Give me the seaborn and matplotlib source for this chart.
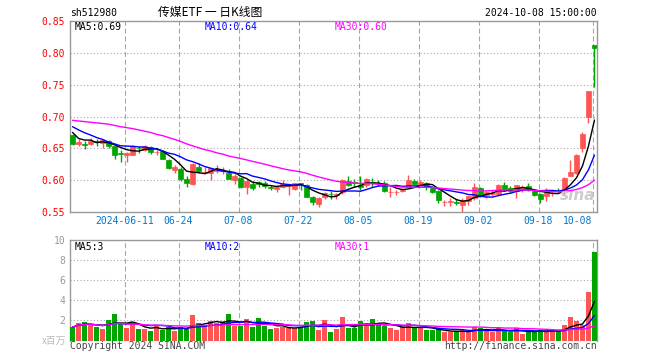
import numpy as np
import pandas as pd
import seaborn as sns
import matplotlib
matplotlib.use('Agg')
import matplotlib.pyplot as plt

# daily candles, 2024-05-28 .. 2024-10-08
opens = [0.671, 0.657, 0.657, 0.657, 0.661, 0.658, 0.662, 0.653, 0.642, 0.639,
         0.640, 0.651, 0.648, 0.652, 0.644, 0.646, 0.632, 0.616, 0.617, 0.602,
         0.594, 0.621, 0.612, 0.612, 0.615, 0.614, 0.612, 0.600, 0.604, 0.590,
         0.594, 0.597, 0.595, 0.589, 0.586, 0.590, 0.591, 0.586, 0.595, 0.593,
         0.574, 0.563, 0.574, 0.5785, 0.577, 0.581, 0.599, 0.5963, 0.592, 0.593,
         0.5968, 0.5955, 0.595, 0.581, 0.581, 0.583, 0.590, 0.599, 0.5937, 0.5958,
         0.588, 0.5828, 0.565, 0.5662, 0.565, 0.5614, 0.5666, 0.5718, 0.5874, 0.576,
         0.579, 0.578, 0.5917, 0.5875, 0.5823, 0.588, 0.5901, 0.5823, 0.5781, 0.5745,
         0.5792, 0.5834, 0.5823, 0.6073, 0.6109, 0.651, 0.6995, 0.8125]
highs = [0.672, 0.665, 0.661, 0.666, 0.665, 0.665, 0.663, 0.654, 0.648, 0.644,
         0.656, 0.654, 0.656, 0.653, 0.647, 0.647, 0.633, 0.624, 0.620, 0.606,
         0.627, 0.627, 0.621, 0.619, 0.624, 0.620, 0.617, 0.610, 0.605, 0.602,
         0.599, 0.599, 0.598, 0.593, 0.592, 0.600, 0.594, 0.596, 0.596, 0.594,
         0.5755, 0.574, 0.582, 0.583, 0.580, 0.6015, 0.606, 0.6015, 0.606, 0.603,
         0.603, 0.600, 0.598, 0.5885, 0.585, 0.5875, 0.608, 0.6015, 0.600, 0.5968,
         0.5896, 0.5843, 0.569, 0.5718, 0.5697, 0.5718, 0.5755, 0.5963, 0.589, 0.5822,
         0.5848, 0.5937, 0.5969, 0.5901, 0.5927, 0.5927, 0.5953, 0.5849, 0.5797, 0.5875,
         0.5823, 0.5875, 0.6042, 0.6318, 0.6406, 0.676, 0.7396, 0.8125]
lows = [0.656, 0.654, 0.649, 0.655, 0.653, 0.651, 0.650, 0.634, 0.629, 0.628,
        0.639, 0.643, 0.646, 0.641, 0.639, 0.633, 0.617, 0.612, 0.598, 0.589,
        0.593, 0.612, 0.609, 0.600, 0.611, 0.610, 0.602, 0.594, 0.587, 0.579,
        0.585, 0.589, 0.587, 0.584, 0.581, 0.588, 0.576, 0.584, 0.584, 0.574,
        0.561, 0.558, 0.570, 0.570, 0.570, 0.579, 0.591, 0.589, 0.585, 0.590,
        0.590, 0.591, 0.581, 0.574, 0.5765, 0.582, 0.589, 0.5926, 0.5906, 0.5843,
        0.580, 0.5645, 0.560, 0.5588, 0.5604, 0.5495, 0.5614, 0.5692, 0.5733, 0.5718,
        0.5744, 0.577, 0.5833, 0.5797, 0.5719, 0.5813, 0.5823, 0.5745, 0.5641, 0.5677,
        0.5745, 0.5797, 0.5771, 0.6073, 0.6094, 0.6448, 0.6891, 0.7464]
closes = [0.657, 0.660, 0.656, 0.662, 0.660, 0.663, 0.653, 0.640, 0.641, 0.643,
          0.654, 0.650, 0.654, 0.645, 0.645, 0.634, 0.619, 0.621, 0.602, 0.595,
          0.626, 0.615, 0.613, 0.619, 0.617, 0.616, 0.602, 0.607, 0.590, 0.598,
          0.587, 0.594, 0.591, 0.588, 0.590, 0.594, 0.593, 0.595, 0.5945, 0.574,
          0.565, 0.572, 0.580, 0.578, 0.578, 0.600, 0.593, 0.5958, 0.590, 0.6015,
          0.5963, 0.5948, 0.583, 0.5815, 0.5815, 0.585, 0.6005, 0.594, 0.5974, 0.5916,
          0.5817, 0.5687, 0.5656, 0.5667, 0.5645, 0.5692, 0.5744, 0.590, 0.5744, 0.5807,
          0.5796, 0.5927, 0.5865, 0.5833, 0.5917, 0.5885, 0.5849, 0.576, 0.5708, 0.5849,
          0.5797, 0.5829, 0.6031, 0.6135, 0.6396, 0.6724, 0.7396, 0.8073]
# volume, millions
volume = [1.33, 1.73, 1.80, 1.60, 1.33, 1.13, 2.03, 2.63, 1.60, 1.23,
          1.73, 1.13, 1.13, 0.93, 1.53, 1.07, 1.33, 0.93, 1.33, 1.13,
          2.53, 1.73, 1.53, 1.93, 1.73, 1.93, 2.63, 1.43, 1.43, 2.13,
          1.33, 2.23, 1.43, 1.13, 1.23, 1.33, 1.27, 1.27, 1.33, 1.83,
          1.93, 1.03, 2.03, 0.83, 1.13, 2.33, 1.23, 1.23, 1.93, 1.55,
          2.15, 1.70, 1.40, 1.20, 1.00, 1.30, 1.75, 1.24, 1.24, 1.00,
          1.00, 1.10, 0.80, 0.80, 0.90, 1.00, 0.90, 1.34, 1.20, 1.00,
          0.80, 1.20, 0.90, 0.80, 1.20, 0.67, 0.90, 0.90, 1.00, 1.00,
          1.00, 0.80, 1.57, 2.37, 1.90, 1.57, 4.83, 8.83]

# moving averages before the window is full
ma5_head = [0.675, 0.6656, 0.663, 0.663]
ma10_head = [0.684, 0.679, 0.6745, 0.671, 0.667, 0.664, 0.660, 0.657, 0.654]
ma30_head = [0.694, 0.693, 0.692, 0.691, 0.690, 0.689, 0.688, 0.686, 0.684, 0.6825,
             0.681, 0.679, 0.677, 0.675, 0.672, 0.670, 0.667, 0.664, 0.661, 0.657,
             0.654, 0.651, 0.648, 0.646, 0.643, 0.641, 0.638, 0.636, 0.634]

tick_idx = [9, 18, 28, 38, 48, 58, 68, 78, 87]
tick_lbl = ['2024-06-11', '06-24', '07-08', '07-22', '08-05', '08-19', '09-02', '09-18', '10-08']

RED = '#ff5454'
GREEN = '#00a600'
GRID = '#a8a8a8'

df = pd.DataFrame({'open': opens, 'high': highs, 'low': lows, 'close': closes, 'vol': volume})
df['i'] = np.arange(len(df))
df['dir'] = np.where(df['close'] >= df['open'], 'up', 'down')

def ma(s, n, head):
    m = s.rolling(n, min_periods=1).mean()
    m.iloc[:len(head)] = head
    return m

df['ma5'] = ma(df['close'], 5, ma5_head)
df['ma10'] = ma(df['close'], 10, ma10_head)
df['ma30'] = ma(df['close'], 30, ma30_head)
df['vma5'] = df['vol'].rolling(5, min_periods=1).mean()
df['vma10'] = df['vol'].rolling(10, min_periods=1).mean()
df['vma30'] = df['vol'].rolling(30, min_periods=1).mean()

sns.set_style('white')
plt.rcParams['font.family'] = ['DejaVu Sans Mono', 'Noto Sans CJK SC']

W, H = 660, 360
fig = plt.figure(figsize=(6.6, 3.6), dpi=100)
ax = fig.add_axes([70 / W, 1 - 212 / H, 527 / W, 191 / H])
ax2 = fig.add_axes([70 / W, 1 - 340.5 / H, 527 / W, 100.5 / H])

colors = df['dir'].map({'up': RED, 'down': GREEN})

# candles
ax.vlines(df['i'], df['low'], df['high'], colors=colors, lw=1, zorder=3)
body_lo = df[['open', 'close']].min(axis=1)
body_h = (df['open'] - df['close']).abs().clip(lower=0.0006)
ax.bar(df['i'], body_h, bottom=body_lo, width=0.8, color=colors, edgecolor=colors,
       linewidth=0.5, zorder=4)
sns.lineplot(data=df, x='i', y='ma5', ax=ax, color='black', lw=1, zorder=5)
sns.lineplot(data=df, x='i', y='ma10', ax=ax, color='#0000ff', lw=1, zorder=5)
sns.lineplot(data=df, x='i', y='ma30', ax=ax, color='#ff00ff', lw=1, zorder=5)

# volume
sns.barplot(data=df, x='i', y='vol', hue='dir', palette={'up': RED, 'down': GREEN},
            dodge=False, width=0.8, saturation=1, legend=False, linewidth=0,
            errorbar=None, ax=ax2, zorder=3)
sns.lineplot(data=df, x='i', y='vma5', ax=ax2, color='black', lw=1, zorder=5)
sns.lineplot(data=df, x='i', y='vma10', ax=ax2, color='#0000ff', lw=1, zorder=5)
sns.lineplot(data=df, x='i', y='vma30', ax=ax2, color='#ff00ff', lw=1, zorder=5)

n = len(df)
for a in (ax, ax2):
    a.set_xlim(-0.42, n - 1 + 0.42)
    a.set_xlabel('')
    a.set_ylabel('')
    for x in tick_idx:
        a.axvline(x - 0.33, color=GRID, lw=0.8, ls=(0, (4.5, 2.5)), zorder=1)
    for s in a.spines.values():
        s.set_color('#999999')
        s.set_linewidth(1)
    a.tick_params(length=0, labelsize=7)

ax.set_ylim(0.55, 0.85)
pt = [0.55, 0.60, 0.65, 0.70, 0.75, 0.80, 0.85]
ax.set_yticks(pt)
ax.set_yticklabels([f'{v:.2f}' for v in pt], color='#ff0000')
for v in pt[1:-1]:
    ax.axhline(v, color=GRID, lw=0.8, ls=(0, (1, 2)), zorder=1)
ax.set_xticks([x - 0.33 for x in tick_idx])
ax.set_xticklabels(tick_lbl, color='#0077cc')
ax.tick_params(axis='x', pad=3)
last = ax.get_xticklabels()[-1]
last.set_ha('right')
last.set_x(tick_idx[-1] - 1.2)

ax2.set_ylim(0, 10)
ax2.set_yticks([2, 4, 6, 8, 10])
ax2.set_yticklabels(['2', '4', '6', '8', '10'], color='#999999')
for v in [2, 4, 6, 8]:
    ax2.axhline(v, color=GRID, lw=0.8, ls=(0, (1, 2)), zorder=1)
ax2.set_xticks([])
ax2.spines['bottom'].set_visible(False)

def ftext(x, y, s, size=7, **kw):
    fig.text(x / W, 1 - y / H, s, va='center', fontsize=size, **kw)

ftext(70, 13, 'sh512980', ha='left', color='black')
ftext(210, 12.5, '传媒ETF 一 日K线图', size=8.5, ha='center', color='black',
      family=['Noto Sans CJK SC'])
ftext(597, 13, '2024-10-08 15:00:00', ha='right', color='black')

last_row = df.iloc[-1]
ftext(75, 26.5, f"MA5:{last_row['ma5']:.2f}", ha='left', color='black')
ftext(205, 26.5, f"MA10:{last_row['ma10']:.2f}", ha='left', color='#0000ff')
ftext(335, 26.5, f"MA30:{last_row['ma30']:.2f}", ha='left', color='#ff00ff')
ftext(75, 246.5, f"MA5:{int(last_row['vma5'])}", ha='left', color='black')
ftext(205, 246.5, f"MA10:{int(last_row['vma10'])}", ha='left', color='#0000ff')
ftext(335, 246.5, f"MA30:{int(last_row['vma30'])}", ha='left', color='#ff00ff')

ftext(66, 341, 'x百万', ha='right', color='#bbbbbb', family=['Noto Sans CJK SC'])
ftext(70, 346, 'Copyright 2024 SINA.COM', ha='left', color='#444444')
ftext(597, 346, 'http://finance.sina.com.cn', ha='right', color='#444444')
ftext(578, 196, 'sina', size=11, ha='center', color='#cccccc',
      family=['DejaVu Sans'], style='italic', weight='bold')

fig.savefig('out.png', dpi=100, facecolor='white')
